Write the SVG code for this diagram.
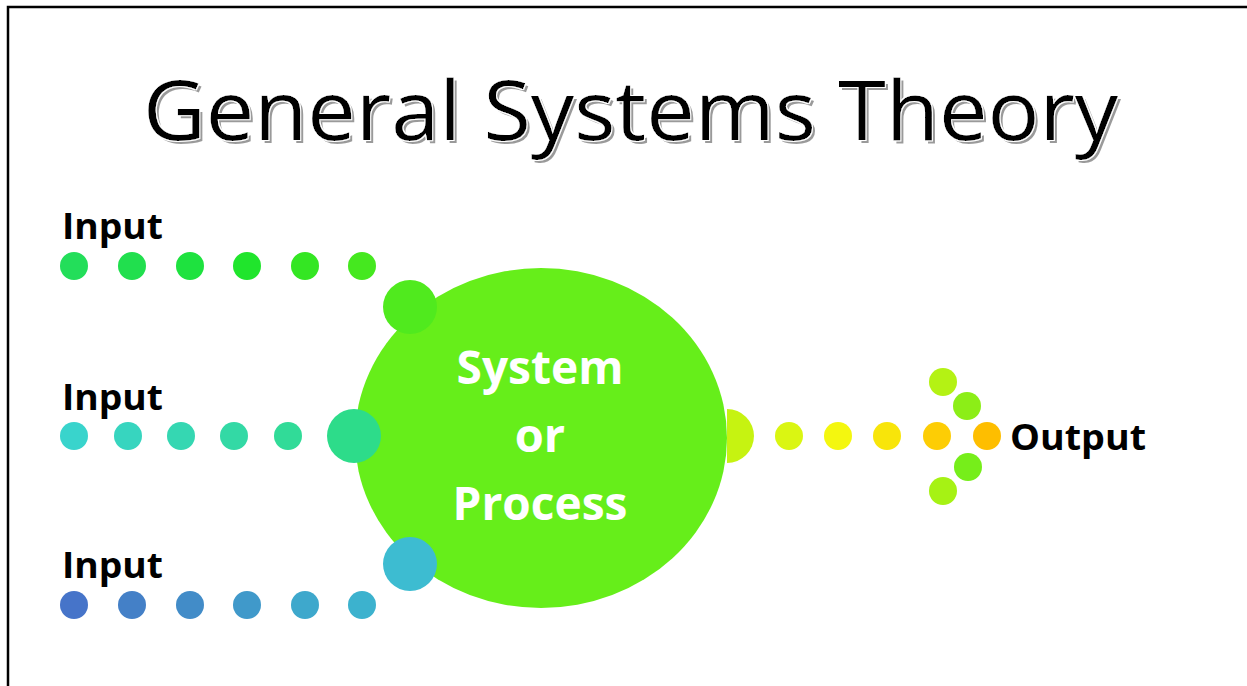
<svg xmlns="http://www.w3.org/2000/svg" width="1247" height="686" viewBox="0 0 1247 686">
<style>
.lbl{font-family:"Open Sans","Noto Sans","Liberation Sans",sans-serif;font-weight:bold;fill:#000;font-size:36px}
.sys{font-family:"Open Sans","Noto Sans","Liberation Sans",sans-serif;font-weight:bold;fill:#fff;font-size:47px;text-anchor:middle}
.title{font-family:"Open Sans","Noto Sans","Liberation Sans",sans-serif;font-size:82px}
</style>
<defs>
<filter id="shadow" x="-5%" y="-20%" width="110%" height="150%">
<feMorphology in="SourceAlpha" operator="dilate" radius="1" result="out"/>
<feFlood flood-color="#ffffff" result="w"/>
<feComposite in="w" in2="out" operator="in" result="outline"/>
<feOffset in="SourceAlpha" dx="3" dy="3" result="off"/>
<feFlood flood-color="#9a9a9a" result="g"/>
<feComposite in="g" in2="off" operator="in" result="sh"/>
<feMerge><feMergeNode in="sh"/><feMergeNode in="outline"/><feMergeNode in="SourceGraphic"/></feMerge>
</filter>
</defs>
<rect width="1247" height="686" fill="#fff"/>
<path d="M8,686 V7 H1247" fill="none" stroke="#000" stroke-width="2.5"/>
<g id="title">
<text class="title" x="143" y="140" textLength="975" lengthAdjust="spacingAndGlyphs" fill="#000" filter="url(#shadow)">General Systems Theory</text>
</g>
<g id="system">
<ellipse cx="541" cy="438" rx="186" ry="170" fill="#66EE1A"/>
<text class="sys" x="540" y="384" textLength="167" lengthAdjust="spacingAndGlyphs">System</text>
<text class="sys" x="540" y="452">or</text>
<text class="sys" x="540" y="520" textLength="175" lengthAdjust="spacingAndGlyphs">Process</text>
</g>
<g id="connectors">
<g id="input1-dots">
<circle cx="74" cy="266" r="14" fill="#23DE5A"/>
<circle cx="132" cy="266" r="14" fill="#21DF4E"/>
<circle cx="190" cy="266" r="14" fill="#1EE23F"/>
<circle cx="247" cy="266" r="14" fill="#20E52C"/>
<circle cx="305" cy="266" r="14" fill="#34E623"/>
<circle cx="362" cy="266" r="14" fill="#45E81F"/>
<circle cx="410" cy="307" r="27" fill="#50EA1E"/>
</g>
<g id="input2-dots">
<circle cx="74" cy="436" r="14" fill="#39D4CC"/>
<circle cx="128" cy="436" r="14" fill="#37D5BF"/>
<circle cx="181" cy="436" r="14" fill="#35D7B2"/>
<circle cx="234" cy="436" r="14" fill="#33D9A5"/>
<circle cx="288" cy="436" r="14" fill="#31DB98"/>
<circle cx="354" cy="436" r="27" fill="#2DDC8A"/>
</g>
<g id="input3-dots">
<circle cx="74" cy="605" r="14" fill="#4674C9"/>
<circle cx="132" cy="605" r="14" fill="#4480C7"/>
<circle cx="190" cy="605" r="14" fill="#428CC8"/>
<circle cx="247" cy="605" r="14" fill="#4099CA"/>
<circle cx="305" cy="605" r="14" fill="#3EA8CC"/>
<circle cx="362" cy="605" r="14" fill="#3CB2CE"/>
<circle cx="410" cy="564" r="27" fill="#3DBCD1"/>
</g>
<g id="output-dots">
<path d="M727,409 A27,27 0 0 1 727,463 Z" fill="#C6F311"/>
<circle cx="789" cy="436" r="14" fill="#DAF612"/>
<circle cx="838" cy="436" r="14" fill="#F4F70F"/>
<circle cx="887" cy="436" r="14" fill="#F8E50A"/>
<circle cx="937" cy="436" r="14" fill="#FDCD05"/>
<circle cx="987" cy="436" r="14" fill="#FEBE00"/>
<circle cx="943" cy="382" r="14" fill="#B4F214"/>
<circle cx="967" cy="406" r="14" fill="#8CEE17"/>
<circle cx="968" cy="467" r="14" fill="#76EE1A"/>
<circle cx="943" cy="491" r="14" fill="#A6F214"/>
</g>
</g>
<g id="input1"><text class="lbl" x="62" y="239" textLength="101" lengthAdjust="spacingAndGlyphs">Input</text></g>
<g id="input2"><text class="lbl" x="62" y="410" textLength="101" lengthAdjust="spacingAndGlyphs">Input</text></g>
<g id="input3"><text class="lbl" x="62" y="578" textLength="101" lengthAdjust="spacingAndGlyphs">Input</text></g>
<g id="output"><text class="lbl" x="1010" y="450" textLength="136" lengthAdjust="spacingAndGlyphs">Output</text></g>
</svg>
